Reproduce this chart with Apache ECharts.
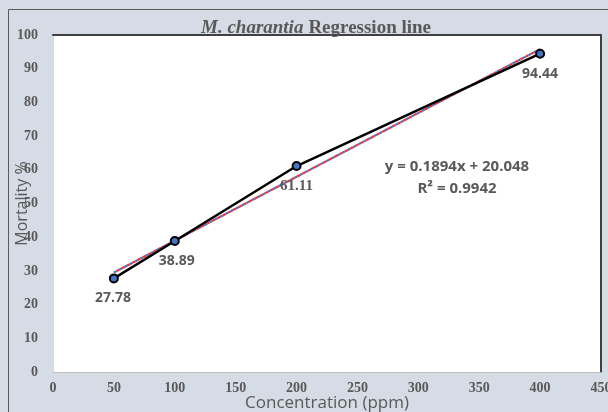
<!DOCTYPE html>
<html>
<head>
<meta charset="utf-8">
<script src="https://cdn.jsdelivr.net/npm/echarts@6/dist/echarts.min.js"></script>
<style>html,body{margin:0;padding:0;background:#d6dce5;}#c{width:608px;height:412px;}</style>
</head>
<body>
<div id="c"></div>
<script>
const concentrations = [50, 100, 200, 400];
const mortality = [27.78, 38.89, 61.11, 94.44];
const trendX = [50, 400];
const trendY = [29.52, 95.81];
const xTicks = [0, 50, 100, 150, 200, 250, 300, 350, 400, 450];
const yTicks = [0, 10, 20, 30, 40, 50, 60, 70, 80, 90, 100];
const equationText = 'y = 0.1894x + 20.048';
const r2Text = 'R² = 0.9942';

const grey = '#595959';
const chart = echarts.init(document.getElementById('c'));
const dataPts = concentrations.map((x, i) => [x, mortality[i]]);
const trendPts = trendX.map((x, i) => [x, trendY[i]]);

chart.setOption({
  backgroundColor: '#d6dce5',
  animation: false,
  title: {
    text: '{i|M. charantia} {b|Regression line}',
    left: 311, top: 14, textAlign: 'center',
    textStyle: {
      rich: {
        i: {fontFamily: 'Liberation Serif', fontStyle: 'italic', fontSize: 19, color: grey},
        b: {fontFamily: 'Liberation Serif', fontWeight: 'bold', fontSize: 19, color: grey}
      }
    }
  },
  grid: {left: 53, right: 7, top: 35, bottom: 40, show: true, backgroundColor: '#ffffff',
    borderWidth: 0, outerBoundsMode: 'none', containLabel: false},
  xAxis: [{
    type: 'value', min: 0, max: 450, interval: 50,
    axisLine: {show: true, onZero: false, lineStyle: {color: '#bfbfbf', width: 1}},
    axisTick: {show: false}, splitLine: {show: false},
    axisLabel: {fontFamily: 'Liberation Serif', fontWeight: 'bold', fontSize: 14, color: grey, margin: 9,
      formatter: v => xTicks.includes(v) ? String(v) : ''},
    name: 'Concentration (ppm)', nameLocation: 'middle', nameGap: 23, nameMoveOverlap: false,
    nameTextStyle: {fontFamily: 'Open Sans', fontSize: 17, color: grey}
  }, {
    type: 'value', position: 'top', min: 0, max: 450,
    axisLine: {show: true, onZero: false, lineStyle: {color: '#404040', width: 2}},
    axisTick: {show: false}, axisLabel: {show: false}, splitLine: {show: false}
  }],
  yAxis: [{
    type: 'value', min: 0, max: 100, interval: 10,
    axisLine: {show: true, onZero: false, lineStyle: {color: '#d9d9d9', width: 1}},
    axisTick: {show: false}, splitLine: {show: false},
    axisLabel: {fontFamily: 'Liberation Serif', fontWeight: 'bold', fontSize: 14, color: grey, margin: 15,
      formatter: v => yTicks.includes(v) ? String(v) : ''},
    name: 'Mortality %', nameLocation: 'middle', nameGap: 23, nameMoveOverlap: false,
    nameTextStyle: {fontFamily: 'Open Sans', fontSize: 16, color: grey}
  }, {
    type: 'value', position: 'right', min: 0, max: 100,
    axisLine: {show: true, onZero: false, lineStyle: {color: '#404040', width: 2}},
    axisTick: {show: false}, axisLabel: {show: false}, splitLine: {show: false}
  }],
  series: [{
    type: 'line', data: trendPts, symbol: 'none', silent: true,
    lineStyle: {color: '#4472c4', width: 2.2, type: [3, 3]}, z: 3
  }, {
    type: 'line', data: trendPts, symbol: 'none', silent: true,
    lineStyle: {color: '#ff2a2a', width: 2.2, type: [3, 3], dashOffset: 3}, z: 3
  }, {
    type: 'line', data: dataPts, symbol: 'circle', symbolSize: 8, z: 4,
    lineStyle: {color: '#000000', width: 2.5},
    itemStyle: {color: '#4472c4', borderColor: '#000000', borderWidth: 2},
    label: {
      show: true, position: 'bottom', distance: 8,
      formatter: p => p.dataIndex === 2 ? '{s|' + p.value[1].toFixed(2) + '}' : '{n|' + p.value[1].toFixed(2) + '}',
      rich: {
        n: {fontFamily: 'Open Sans', fontWeight: 'bold', fontSize: 14, color: grey},
        s: {fontFamily: 'Liberation Serif', fontWeight: 'bold', fontSize: 15, color: grey}
      }
    },
    labelLayout: p => p.dataIndex === 1 ? {dx: 2} : (p.dataIndex === 0 ? {dx: -1} : {})
  }],
  graphic: [{
    type: 'rect', shape: {x: 8.5, y: 9.5, width: 620, height: 420},
    style: {fill: 'none', stroke: '#595959', lineWidth: 1}, silent: true, z: -1
  }, {
    type: 'text', x: 457, y: 167,
    style: {text: equationText, fontFamily: 'Open Sans', fontWeight: 'bold', fontSize: 15,
      fill: grey, align: 'center', verticalAlign: 'middle'}
  }, {
    type: 'text', x: 457, y: 189,
    style: {text: r2Text, fontFamily: 'Open Sans', fontWeight: 'bold', fontSize: 15,
      fill: grey, align: 'center', verticalAlign: 'middle'}
  }]
});
</script>
</body>
</html>
